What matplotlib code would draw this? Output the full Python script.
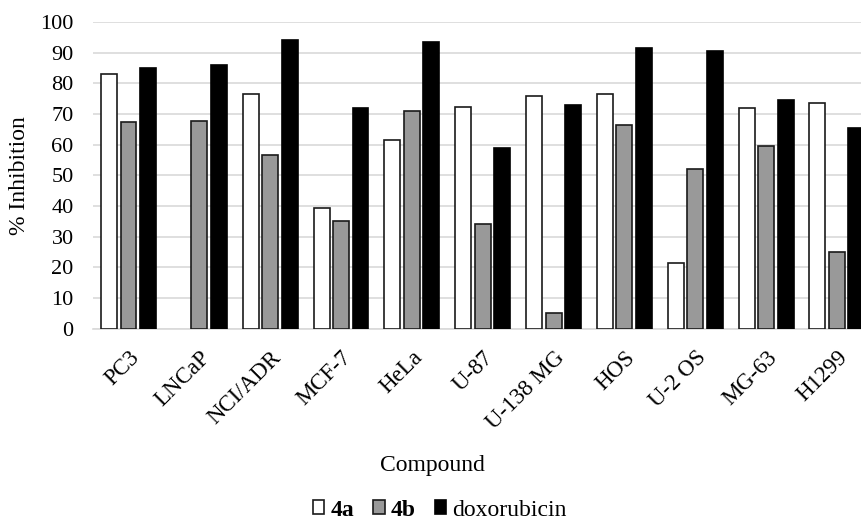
import numpy as np
import matplotlib
matplotlib.use("Agg")
import matplotlib.pyplot as plt

plt.rcParams['font.family'] = ['Liberation Serif', 'DejaVu Serif']

cells = ['PC3', 'LNCaP', 'NCI/ADR', 'MCF-7', 'HeLa', 'U-87', 'U-138 MG',
         'HOS', 'U-2 OS', 'MG-63', 'H1299']
inh_4a = [83, 0, 76.5, 39.5, 61.5, 72.3, 75.8, 76.4, 21.5, 71.8, 73.5]
inh_4b = [67.5, 67.8, 56.5, 35.3, 71, 34.3, 5.3, 66.5, 52, 59.5, 25]
inh_dox = [85, 86, 94, 72, 93.5, 59, 73, 91.5, 90.5, 74.5, 65.5]

fig = plt.figure(figsize=(8.62, 5.22), dpi=100)
ax = fig.add_axes([0.108, 0.370, 0.904, 0.588])

x = np.arange(len(cells))
w = 0.225
off = 0.275
series = [(inh_4a, -off, 'white', '#1a1a1a', '4a'),
          (inh_4b, 0, '#999999', '#1a1a1a', '4b'),
          (inh_dox, off, 'black', 'black', 'doxorubicin')]
for vals, dx, fc, ec, lab in series:
    bars = ax.bar(x + dx, vals, w, color=fc, edgecolor=ec, linewidth=1.2, label=lab, zorder=3)
    for b, v in zip(bars, vals):
        if v == 0:
            b.set_linewidth(0)

ax.set_xlim(-0.5, len(cells) - 0.5)
ax.set_ylim(0, 100)
ax.set_yticks(np.arange(0, 101, 10))
ax.yaxis.grid(True, color='#d9d9d9', linewidth=1.2, zorder=0)
ax.set_axisbelow(True)
for s in ['top', 'right', 'left']:
    ax.spines[s].set_visible(False)
ax.spines['bottom'].set_color('#d9d9d9')
ax.spines['bottom'].set_linewidth(1.2)
ax.tick_params(length=0)
ax.tick_params(axis='y', pad=14, labelsize=16)
ax.tick_params(axis='x', pad=13, labelsize=16.5)
ax.set_xticks(x)
ax.set_xticklabels(cells, rotation=45, ha='right', rotation_mode='anchor')

ax.set_ylabel('% Inhibition', fontsize=17, va='center')
ax.yaxis.set_label_coords(-0.094, 0.5)
ax.set_xlabel('Compound', fontsize=17, va='center')
ax.xaxis.set_label_coords(0.435, -0.446)

leg = fig.legend(loc='center', bbox_to_anchor=(0.510, 1 - 510 / 522), ncol=3, frameon=False,
                 fontsize=17, handlelength=0.5, handleheight=0.5, handletextpad=0.25,
                 columnspacing=0.8)
for t in leg.get_texts()[:2]:
    t.set_fontweight('bold')

fig.savefig('out.png', dpi=100)
